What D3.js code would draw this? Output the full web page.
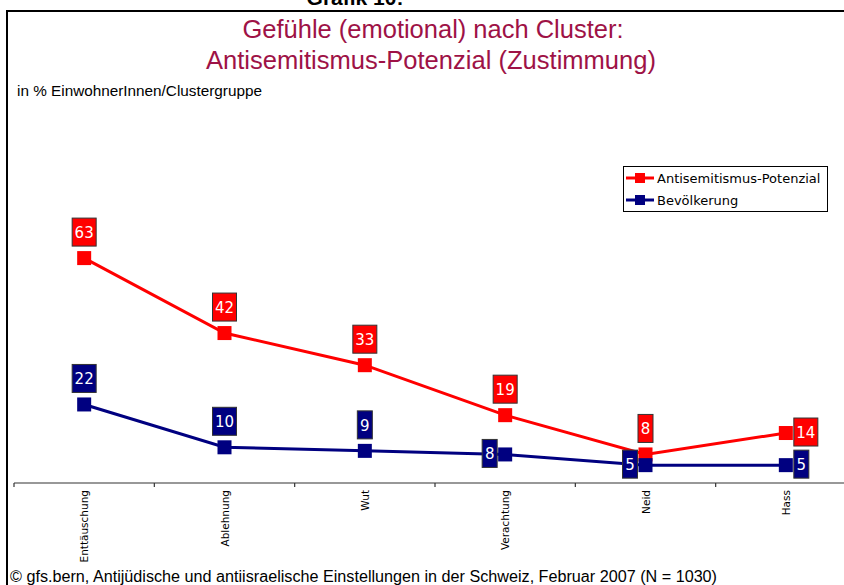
<!DOCTYPE html>
<html>
<head>
<meta charset="utf-8">
<script src="https://cdn.jsdelivr.net/npm/d3@7"></script>
<style>
  html, body { margin: 0; padding: 0; background: #fff; }
  svg { display: block; }
  .narrow { font-family: "Liberation Sans Narrow", "Arial Narrow", "Liberation Sans", sans-serif; }
  .verd { font-family: "DejaVu Sans", Verdana, sans-serif; }
</style>
</head>
<body>
<svg id="chart" width="844" height="585"></svg>
<script>
// Emotional reactions by cluster, share in % of each group
const categories = ["Enttäuschung", "Ablehnung", "Wut", "Verachtung", "Neid", "Hass"];
const potenzialValues = [63, 42, 33, 19, 8, 14];
const bevoelkerungValues = [22, 10, 9, 8, 5, 5];
const seriesNames = ["Antisemitismus-Potenzial", "Bevölkerung"];
// where each value label sits relative to its point
const potenzialLabelPos = ["above", "above", "above", "above", "above", "right"];
const bevoelkerungLabelPos = ["above", "above", "above", "left", "left", "right"];

const series = [
  { name: seriesNames[0], values: potenzialValues, labelPos: potenzialLabelPos, color: "#ff0000" },
  { name: seriesNames[1], values: bevoelkerungValues, labelPos: bevoelkerungLabelPos, color: "#000080" }
];

const svg = d3.select("#chart");
const W = 844, H = 585;

// page heading, running off the top edge
svg.append("text")
  .attr("x", 355).attr("y", 5)
  .attr("text-anchor", "middle")
  .attr("font-family", "Liberation Sans, Arial, sans-serif")
  .attr("font-weight", "bold").attr("font-size", 21)
  .text("Grafik 10:");

// frame
svg.append("path")
  .attr("d", `M7,${H} V11 H${W + 2}`)
  .attr("fill", "none").attr("stroke", "#000").attr("stroke-width", 2);

// condensed text: fit to a given width
function narrowText(sel, width) {
  return sel.attr("textLength", width).attr("lengthAdjust", "spacingAndGlyphs");
}

// titles
const titleColor = "#9e1246";
narrowText(svg.append("text").attr("class", "narrow")
  .attr("x", 433).attr("y", 38).attr("text-anchor", "middle")
  .attr("font-size", 26).attr("fill", titleColor)
  .text("Gefühle (emotional) nach Cluster:"), 381);
narrowText(svg.append("text").attr("class", "narrow")
  .attr("x", 431).attr("y", 69).attr("text-anchor", "middle")
  .attr("font-size", 26).attr("fill", titleColor)
  .text("Antisemitismus-Potenzial (Zustimmung)"), 450);
narrowText(svg.append("text").attr("class", "narrow")
  .attr("x", 17).attr("y", 96)
  .attr("font-size", 15).attr("fill", "#000")
  .text("in % EinwohnerInnen/Clustergruppe"), 245);

// footer
narrowText(svg.append("text").attr("class", "narrow")
  .attr("x", 10).attr("y", 582)
  .attr("font-size", 16).attr("fill", "#000")
  .text("© gfs.bern, Antijüdische und antiisraelische Einstellungen in der Schweiz, Februar 2007 (N =  1030)"), 707);

// scales
const x = d3.scaleBand().domain(categories).range([14, 856]);
const y = d3.scaleLinear().domain([0, 100]).range([483, 126]);

// category axis
const axis = svg.append("g").attr("transform", `translate(0,${y(0)})`);
axis.append("line")
  .attr("x1", 14).attr("x2", W)
  .attr("stroke", "#333").attr("stroke-width", 1.2);
axis.selectAll("line.tick")
  .data(categories)
  .join("line").attr("class", "tick")
  .attr("x1", d => x(d)).attr("x2", d => x(d))
  .attr("y1", 0).attr("y2", 4)
  .attr("stroke", "#333").attr("stroke-width", 1.2);
axis.selectAll("text.cat")
  .data(categories)
  .join("text").attr("class", "cat verd")
  .attr("transform", d => `translate(${x(d) + x.bandwidth() / 2 + 4},7) rotate(-90)`)
  .attr("text-anchor", "end")
  .attr("font-size", 10.5).attr("fill", "#000")
  .text(d => d);

const cx = d => x(d) + x.bandwidth() / 2;
const line = d3.line().x(d => cx(d.cat)).y(d => y(d.v));

series.forEach(s => {
  const pts = categories.map((c, i) => ({ cat: c, v: s.values[i], pos: s.labelPos[i] }));
  const g = svg.append("g");
  g.append("path").datum(pts)
    .attr("d", line)
    .attr("fill", "none").attr("stroke", s.color).attr("stroke-width", 3);
  g.selectAll("rect.mk").data(pts).join("rect").attr("class", "mk")
    .attr("x", d => cx(d.cat) - 7).attr("y", d => y(d.v) - 7)
    .attr("width", 14).attr("height", 14)
    .attr("fill", s.color);

  // value labels in filled boxes
  const lab = g.selectAll("g.lab").data(pts).join("g").attr("class", "lab");
  lab.each(function (d) {
    const el = d3.select(this);
    const t = el.append("text").attr("class", "verd")
      .attr("font-size", 15).attr("fill", "#fff")
      .attr("text-anchor", "middle").attr("dominant-baseline", "central")
      .text(d.v);
    const tw = t.node().getComputedTextLength();
    const bw = Math.round(tw + 5), bh = 28;
    const px = cx(d.cat), py = y(d.v);
    let bx, by;
    if (d.pos === "above") { bx = px - bw / 2; by = py - 12 - bh; }
    else if (d.pos === "left") { bx = px - 8 - bw; by = py - 1 - bh / 2; }
    else { bx = px + 8; by = py - 1 - bh / 2; }
    el.insert("rect", "text")
      .attr("x", bx).attr("y", by).attr("width", bw).attr("height", bh)
      .attr("fill", s.color).attr("stroke", "#333").attr("stroke-width", 1);
    t.attr("x", bx + bw / 2).attr("y", by + bh / 2 + 1);
  });
});

// legend
const lg = svg.append("g").attr("transform", "translate(623,166)");
lg.append("rect").attr("x", 0.5).attr("y", 0.5).attr("width", 204).attr("height", 45)
  .attr("fill", "#fff").attr("stroke", "#000").attr("stroke-width", 1);
series.forEach((s, i) => {
  const ry = 12 + i * 22;
  lg.append("line").attr("x1", 3).attr("x2", 31).attr("y1", ry).attr("y2", ry)
    .attr("stroke", s.color).attr("stroke-width", 3);
  lg.append("rect").attr("x", 12).attr("y", ry - 5).attr("width", 10).attr("height", 10)
    .attr("fill", s.color);
  lg.append("text").attr("class", "verd")
    .attr("x", 34).attr("y", ry).attr("dominant-baseline", "central")
    .attr("font-size", 13).attr("fill", "#000")
    .text(s.name);
});
</script>
</body>
</html>
